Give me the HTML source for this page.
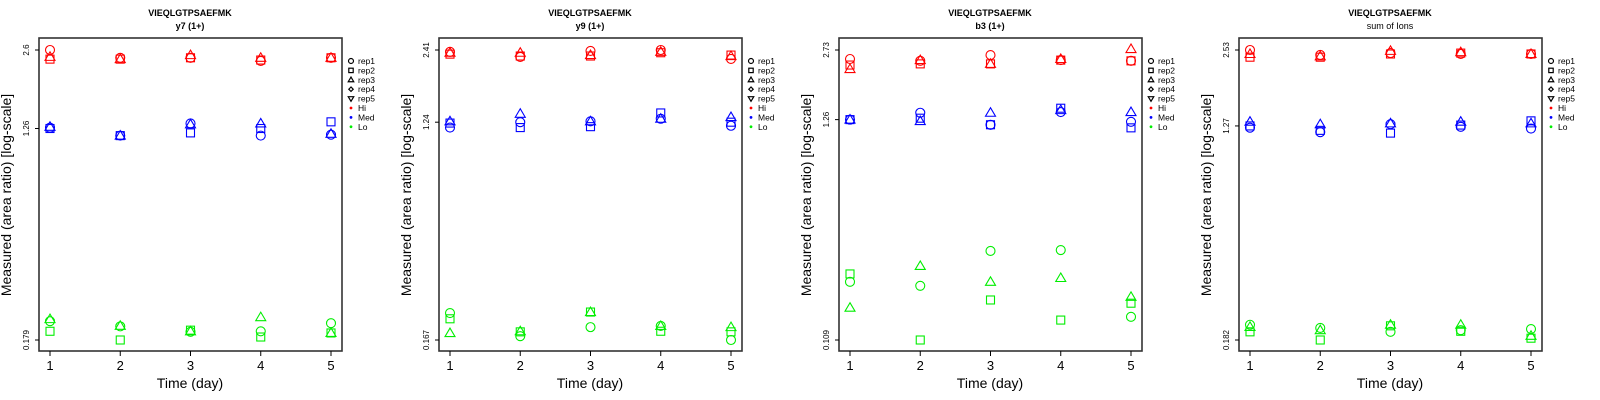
<!DOCTYPE html>
<html><head><meta charset="utf-8"><style>
html,body{margin:0;padding:0;background:#fff}
svg{display:block;font-family:"Liberation Sans",sans-serif}
</style></head><body>
<svg id="chart" width="1600" height="400" viewBox="0 0 1600 400" xmlns="http://www.w3.org/2000/svg"></svg>
<script>
const days = [1,2,3,4,5];
const panelTitles = ["y7 (1+)","y9 (1+)","b3 (1+)","sum of Ions"];
const yTickLabels = [["2.6","1.26","0.179"],["2.41","1.24","0.167"],["2.73","1.26","0.109"],["2.53","1.27","0.182"]];
const yMin = [0.179,0.167,0.109,0.182];
const yMax = [2.6,2.41,2.73,2.53];
const yMid = [1.26,1.24,1.26,1.27];
// panel 1 (y7)
const p1HiRep1=[2.6,2.42,2.42,2.35,2.42], p1HiRep2=[2.39,2.39,2.42,2.37,2.42], p1HiRep3=[2.44,2.39,2.48,2.42,2.42];
const p1MedRep1=[1.27,1.18,1.32,1.18,1.19], p1MedRep2=[1.26,1.18,1.21,1.26,1.34], p1MedRep3=[1.28,1.18,1.31,1.32,1.20];
const p1LoRep1=[0.213,0.203,0.193,0.194,0.209], p1LoRep2=[0.194,0.179,0.196,0.184,0.191], p1LoRep3=[0.217,0.204,0.194,0.221,0.191];
// panel 2 (y9)
const p2HiRep1=[2.37,2.26,2.39,2.41,2.22], p2HiRep2=[2.32,2.28,2.28,2.35,2.30], p2HiRep3=[2.35,2.35,2.30,2.37,2.28];
const p2MedRep1=[1.18,1.24,1.25,1.28,1.20], p2MedRep2=[1.23,1.18,1.19,1.35,1.24], p2MedRep3=[1.25,1.34,1.25,1.28,1.30];
const p2LoRep1=[0.214,0.173,0.188,0.190,0.167], p2LoRep2=[0.203,0.180,0.216,0.181,0.180], p2LoRep3=[0.178,0.181,0.216,0.190,0.188];
// panel 3 (b3)
const p3HiRep1=[2.47,2.42,2.58,2.44,2.42], p3HiRep2=[2.31,2.34,2.34,2.44,2.42], p3HiRep3=[2.21,2.44,2.34,2.47,2.76];
const p3MedRep1=[1.26,1.36,1.19,1.37,1.23], p3MedRep2=[1.26,1.28,1.19,1.43,1.15], p3MedRep3=[1.26,1.24,1.36,1.40,1.37];
const p3LoRep1=[0.208,0.199,0.293,0.296,0.141], p3LoRep2=[0.227,0.109,0.170,0.136,0.164], p3LoRep3=[0.156,0.248,0.208,0.217,0.176];
// panel 4 (sum)
const p4HiRep1=[2.53,2.42,2.46,2.44,2.44], p4HiRep2=[2.37,2.37,2.44,2.46,2.44], p4HiRep3=[2.44,2.39,2.51,2.48,2.44];
const p4MedRep1=[1.25,1.20,1.29,1.26,1.24], p4MedRep2=[1.27,1.22,1.19,1.28,1.33], p4MedRep3=[1.32,1.29,1.30,1.32,1.30];
const p4LoRep1=[0.209,0.203,0.196,0.199,0.201], p4LoRep2=[0.196,0.182,0.207,0.197,0.185], p4LoRep3=[0.205,0.199,0.209,0.209,0.189];

const panelData = [
 [[p1HiRep1,p1HiRep2,p1HiRep3],[p1MedRep1,p1MedRep2,p1MedRep3],[p1LoRep1,p1LoRep2,p1LoRep3]],
 [[p2HiRep1,p2HiRep2,p2HiRep3],[p2MedRep1,p2MedRep2,p2MedRep3],[p2LoRep1,p2LoRep2,p2LoRep3]],
 [[p3HiRep1,p3HiRep2,p3HiRep3],[p3MedRep1,p3MedRep2,p3MedRep3],[p3LoRep1,p3LoRep2,p3LoRep3]],
 [[p4HiRep1,p4HiRep2,p4HiRep3],[p4MedRep1,p4MedRep2,p4MedRep3],[p4LoRep1,p4LoRep2,p4LoRep3]]
];
const levelNames=["hi","med","lo"];
const colors=["#ff0000","#0000ff","#00ee00"];
const NS="http://www.w3.org/2000/svg";
const svg=document.getElementById('chart');
function mk(tag,attrs,parent){const e=document.createElementNS(NS,tag);for(const k in attrs)e.setAttribute(k,attrs[k]);parent.appendChild(e);return e;}
function shape(kind,cx,cy,s,col,parent){
  let e;
  if(kind===0) e=mk('circle',{cx:cx,cy:cy,r:4.5*s},parent);
  else if(kind===1) e=mk('rect',{x:cx-4*s,y:cy-4*s,width:8*s,height:8*s},parent);
  else if(kind===2) e=mk('polygon',{points:`${cx},${cy-5*s} ${cx-5*s},${cy+3.5*s} ${cx+5*s},${cy+3.5*s}`},parent);
  else if(kind===3) e=mk('polygon',{points:`${cx},${cy-4*s} ${cx-4*s},${cy} ${cx},${cy+4*s} ${cx+4*s},${cy}`},parent);
  else e=mk('polygon',{points:`${cx},${cy+5*s} ${cx-5*s},${cy-3.5*s} ${cx+5*s},${cy-3.5*s}`},parent);
  e.setAttribute('fill','none');e.setAttribute('stroke',col);e.setAttribute('stroke-width',1.1);
  return e;
}
for(let p=0;p<4;p++){
  const ox=400*p;
  const g=mk('g',{transform:`translate(${ox},0)`},svg);
  
  
  const xs=d=>50+(d-1)*70.25;
  const lmin=Math.log(yMin[p]), lmax=Math.log(yMax[p]);
  const ys=v=>340-(Math.log(v)-lmin)/(lmax-lmin)*290;
  let t=mk('text',{x:190,y:16,'text-anchor':'middle','font-size':9,'font-weight':'bold'},g);t.textContent='VIEQLGTPSAEFMK';
  
  t=mk('text',{x:190,y:29,'text-anchor':'middle','font-size':9,'font-weight':p==3?'normal':'bold'},g);t.textContent=panelTitles[p];
  
  const box=mk('rect',{x:39,y:38,width:303,height:313,fill:'none',stroke:'#333','stroke-width':1.6},g);
  
  const tv=[yMax[p],yMid[p],yMin[p]];
  for(let i=0;i<3;i++){
    const y=ys(tv[i]);
    mk('line',{x1:35,x2:39,y1:y,y2:y,stroke:'#000','stroke-width':1},g);
    const tl=mk('text',{x:29,y:y,'text-anchor':'middle','font-size':8,transform:`rotate(-90 29 ${y})`},g);
    tl.textContent=yTickLabels[p][i];
    
  }
  for(const d of days){
    mk('line',{x1:xs(d),x2:xs(d),y1:351,y2:356,stroke:'#000','stroke-width':1},g);
    const tl=mk('text',{x:xs(d),y:370,'text-anchor':'middle','font-size':13},g);tl.textContent=d;
    
  }
  t=mk('text',{x:190,y:388,'text-anchor':'middle','font-size':14},g);t.textContent='Time (day)';
  
  t=mk('text',{x:11,y:195,'text-anchor':'middle','font-size':14,transform:'rotate(-90 11 195)'},g);t.textContent='Measured (area ratio) [log-scale]';
  
  for(let l=0;l<3;l++){
    for(let r=0;r<3;r++){
      const arr=panelData[p][l][r];
      arr.forEach((v,i)=>{
        const m=shape(r,xs(days[i]),ys(v),1,colors[l],g);
        
        
      });
    }
  }
  const lg=mk('g',{},g);
  
  const labels=['rep1','rep2','rep3','rep4','rep5','Hi','Med','Lo'];
  labels.forEach((lab,i)=>{
    const y=61+i*9.4;
    if(i<5){const s=shape(i,351,y,0.55,'#000',lg);s.setAttribute('stroke-width',1.2);}
    else mk('circle',{cx:351,cy:y,r:1.4,fill:colors[i-5]},lg);
    const tx=mk('text',{x:358,y:y+3,'font-size':8.5},lg);tx.textContent=lab;
    
  });
}
</script>
</body></html>
